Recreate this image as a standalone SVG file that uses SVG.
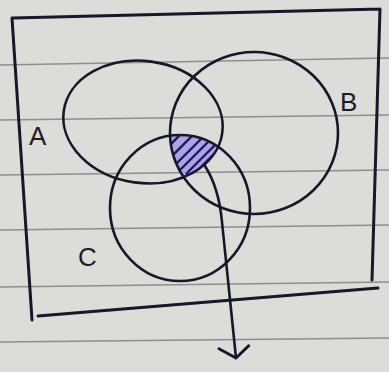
<svg xmlns="http://www.w3.org/2000/svg" width="389" height="372" viewBox="0 0 389 372">
<defs>
<style>
.ink{fill:none;stroke:#17172a;stroke-width:2.6;stroke-linecap:round;stroke-linejoin:round}
.rule{stroke:#8e8e8c;stroke-width:1.3;fill:none}
.lbl{font-family:"Liberation Sans",Arial,sans-serif;font-size:26px;fill:#1c1c2c}
</style>
<clipPath id="cA"><ellipse cx="143" cy="122" rx="80" ry="61" transform="rotate(8 143 122)"/></clipPath>
<clipPath id="cB"><ellipse cx="254" cy="133" rx="84" ry="81"/></clipPath>
<clipPath id="cC"><ellipse cx="180" cy="208" rx="70" ry="73"/></clipPath>
<marker id="arr" markerWidth="30" markerHeight="40" refX="16" refY="20" orient="auto" markerUnits="userSpaceOnUse">
<path d="M5 6 L16 20 L5 36" fill="none" stroke="#17172a" stroke-width="2.8" stroke-linecap="round" stroke-linejoin="round"/>
</marker>
</defs>
<rect width="389" height="372" fill="#dcdcd8"/>
<g id="paper">
<path class="rule" d="M0 65 L389 58"/>
<path class="rule" d="M0 120 L389 115"/>
<path class="rule" d="M0 175 L389 170"/>
<path class="rule" d="M0 230 L389 225"/>
<path class="rule" d="M0 287 L389 282"/>
<path class="rule" d="M0 342 L389 338"/>
</g>
<g id="universe"><path class="ink" style="stroke-width:3" d="M13 18 L380 9 M380 9 L372 280 M12 18 L32 320 M38 316 L378 288"/></g>
<g id="shade">
<g clip-path="url(#cA)"><g clip-path="url(#cB)"><g clip-path="url(#cC)">
<rect x="160" y="125" width="70" height="60" fill="#aba4e6"/>
<path d="M165 150 L185 130 M168 160 L195 133 M172 168 L203 137 M178 172 L210 140 M186 174 L215 145 M192 176 L220 148" stroke="#1f1a5e" stroke-width="2.4"/>
</g></g></g>
</g>
<g id="A"><ellipse class="ink" cx="143" cy="122" rx="80" ry="61" transform="rotate(8 143 122)"/><text class="lbl" x="29" y="145">A</text></g>
<g id="B"><ellipse class="ink" cx="254" cy="133" rx="84" ry="81"/><text class="lbl" x="340" y="111">B</text></g>
<g id="C"><ellipse class="ink" cx="180" cy="208" rx="70" ry="73"/><text class="lbl" x="78" y="266">C</text></g>
<g id="connectors"><path class="ink" d="M205 166 C214 180 220 200 222 222 L236 358" marker-end="url(#arr)"/></g>
</svg>
